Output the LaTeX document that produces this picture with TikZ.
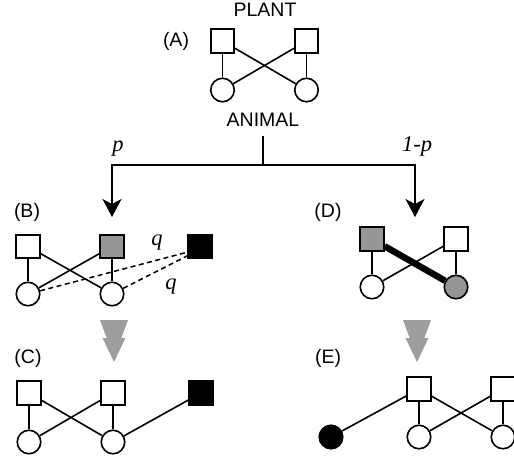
\documentclass[tikz,border=0pt]{standalone}
\usepackage{fontspec}
\setmainfont{Liberation Sans}
\newfontfamily\timesfont{Liberation Serif}
\usetikzlibrary{arrows.meta}
\definecolor{midgray}{RGB}{150,150,150}
\definecolor{arrgray}{RGB}{158,158,158}
\begin{document}
\begin{tikzpicture}[x=1pt,y=-1pt,
  sq/.style={draw,line width=1.6pt,minimum size=23.5pt,inner sep=0pt,fill=white},
  ci/.style={draw,circle,line width=1.6pt,minimum size=23.5pt,inner sep=0pt,fill=white},
  edge/.style={line width=1.6pt},
  thickedge/.style={line width=6.5pt},
  dashedge/.style={line width=1.5pt,dash pattern=on 5pt off 3.5pt},
  lbl/.style={font=\fontsize{19.5}{19.5}\selectfont,inner sep=0pt},
  prob/.style={font=\fontsize{22.5}{22.5}\selectfont\timesfont\itshape,inner sep=0pt},
  branch/.style={line width=1.6pt},
  arr/.style={line width=1.6pt,-{Stealth[length=18pt,width=19pt,inset=5pt]}},
  dbl/.pic={
    \fill[arrgray] (-14,0) -- (14,0) -- (0,38) -- cycle;
    \fill[arrgray] (-11.5,18) -- (11.5,18) -- (0,42) -- cycle;
  }]
\useasboundingbox (0,0) rectangle (514,456);

% ---------- (A) ----------
\node[lbl] (plant) at (265,10) {PLANT};
\node[lbl] (labA) at (176,41) {(A)};
\node[sq] (a1) at (222.5,41) {};
\node[sq] (a2) at (306.5,41) {};
\node[ci] (a3) at (222.5,90) {};
\node[ci] (a4) at (306.5,90) {};
\draw[edge] (a1) -- (a3);
\draw[edge] (a2) -- (a4);
\draw[edge] (a1) -- (a4);
\draw[edge] (a2) -- (a3);
\node[lbl] (animal) at (263,120) {ANIMAL};

% ---------- branching ----------
\coordinate (top) at (263,136);
\coordinate (br) at (263,165);
\coordinate (tipB) at (112,217);
\coordinate (tipD) at (415,217);
\draw[branch] (top) -- (br);
\draw[arr] (br) -| (tipB);
\draw[arr] (br) -| (tipD);
\node[prob] (p) at (118,149) {p};
\node[prob] (q1p) at (417,146) {1-p};

% ---------- (B) ----------
\node[lbl] (labB) at (27,212) {(B)};
\node[sq] (b1) at (28,246.5) {};
\node[sq,fill=midgray] (b2) at (112,246.5) {};
\node[sq,fill=black] (b5) at (200,246.5) {};
\node[ci] (b3) at (28,294) {};
\node[ci] (b4) at (112,294) {};
\draw[edge] (b1) -- (b3);
\draw[edge] (b2) -- (b4);
\draw[edge] (b1) -- (b4);
\draw[edge] (b2) -- (b3);
\coordinate (bq1) at (188,252);
\coordinate (bq2) at (188,255.5);
\draw[dashedge] (b3) -- (bq1);
\draw[dashedge] (b4) -- (bq2);
\node[prob] (q1) at (157,243) {q};
\node[prob] (q2) at (171,287) {q};

% ---------- (C) ----------
\pic at (114,320) {dbl};
\node[lbl] (labC) at (28,358) {(C)};
\node[sq] (c1) at (29,393) {};
\node[sq] (c2) at (113,393) {};
\node[sq,fill=black] (c5) at (201,393) {};
\node[ci] (c3) at (29,442) {};
\node[ci] (c4) at (113,442) {};
\draw[edge] (c1) -- (c3);
\draw[edge] (c2) -- (c4);
\draw[edge] (c1) -- (c4);
\draw[edge] (c2) -- (c3);
\draw[edge] (c5) -- (c4);

% ---------- (D) ----------
\node[lbl] (labD) at (328,212) {(D)};
\node[sq,fill=midgray] (d1) at (372,239) {};
\node[sq] (d2) at (456,239) {};
\node[ci] (d3) at (372,287) {};
\node[ci,fill=midgray] (d4) at (456,287) {};
\draw[edge] (d1) -- (d3);
\draw[edge] (d2) -- (d4);
\draw[edge] (d2) -- (d3);
\draw[thickedge] (d1) -- (d4);

% ---------- (E) ----------
\pic at (417,320) {dbl};
\node[lbl] (labE) at (328,358) {(E)};
\node[sq] (e1) at (419,389) {};
\node[sq] (e2) at (503,389) {};
\node[ci] (e3) at (419,437) {};
\node[ci] (e4) at (503,437) {};
\node[ci,fill=black] (e5) at (331,437) {};
\draw[edge] (e1) -- (e3);
\draw[edge] (e2) -- (e4);
\draw[edge] (e1) -- (e4);
\draw[edge] (e2) -- (e3);
\draw[edge] (e5) -- (e1);
\end{tikzpicture}
\end{document}
